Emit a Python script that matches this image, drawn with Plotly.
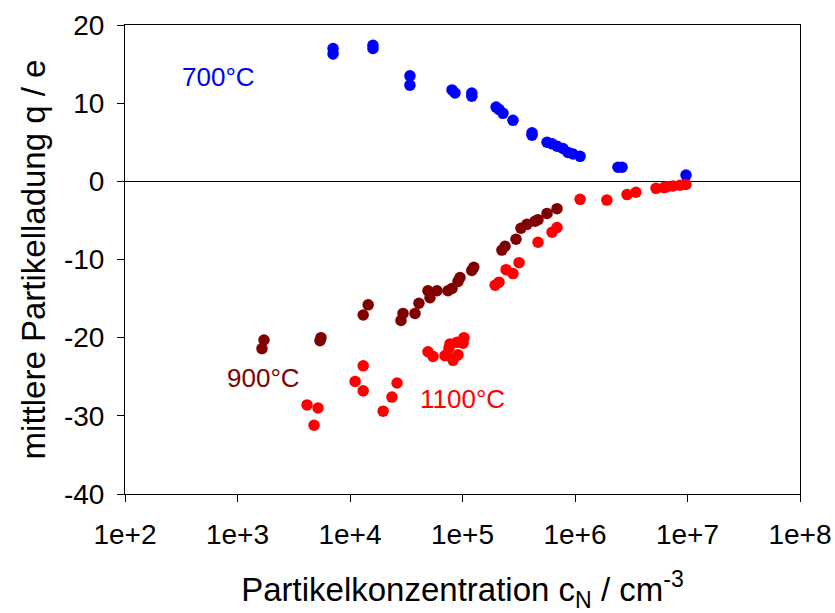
import numpy as np
import plotly.graph_objects as go

# 700 °C series
x700 = [7.07e3, 7.07e3, 1.60e4, 1.60e4, 3.41e4, 3.41e4, 8.07e4, 8.58e4, 1.21e5, 1.21e5,
        1.99e5, 2.11e5, 2.29e5, 2.81e5, 4.15e5, 4.15e5, 5.64e5, 6.25e5, 6.92e5, 7.82e5,
        8.67e5, 9.60e5, 1.11e6, 2.41e6, 2.62e6, 9.70e6]
q700 = [17.0, 16.3, 17.4, 17.0, 13.5, 12.3, 11.7, 11.3, 11.3, 10.9,
        9.5, 9.2, 8.7, 7.8, 6.2, 5.9, 5.0, 4.8, 4.5, 4.2,
        3.7, 3.5, 3.2, 1.8, 1.8, 0.8]

# 900 °C series
x900 = [1.65e3, 1.72e3, 5.41e3, 5.52e3, 1.31e4, 1.45e4, 2.84e4, 2.96e4, 3.78e4, 4.10e4,
        4.93e4, 5.14e4, 5.93e4, 7.43e4, 8.07e4, 9.12e4, 9.50e4, 1.21e5, 1.26e5, 2.24e5,
        2.39e5, 2.99e5, 3.31e5, 3.74e5, 4.41e5, 4.69e5, 5.64e5, 6.92e5]
q900 = [-21.4, -20.3, -20.4, -20.0, -17.1, -15.8, -17.8, -16.9, -16.9, -15.6,
        -14.0, -14.9, -14.0, -14.0, -13.7, -12.8, -12.3, -11.4, -11.0, -8.8,
        -8.3, -7.4, -6.0, -5.5, -5.1, -4.9, -4.1, -3.5]

# 1100 °C series
x1100 = [4.15e3, 4.79e3, 5.20e3, 1.11e4, 1.31e4, 1.31e4, 1.97e4, 2.36e4, 2.62e4, 4.93e4,
         5.47e4, 6.99e4, 7.28e4, 7.59e4, 7.74e4, 8.24e4, 8.94e4, 9.12e4, 1.01e5, 1.03e5,
         1.95e5, 2.11e5, 2.44e5, 2.81e5, 3.18e5, 4.69e5, 6.25e5, 6.92e5, 1.11e6, 1.92e6,
         2.90e6, 3.48e6, 5.25e6, 6.18e6, 6.58e6, 7.43e6, 8.58e6, 9.70e6]
q1100 = [-28.6, -31.2, -29.0, -25.6, -23.6, -26.8, -29.4, -27.6, -25.8, -21.8,
         -22.4, -22.3, -22.1, -21.3, -20.8, -22.9, -20.6, -22.2, -20.7, -20.0,
         -13.3, -12.9, -11.3, -11.8, -10.4, -7.8, -6.5, -5.9, -2.3, -2.4,
         -1.7, -1.4, -0.9, -0.8, -0.7, -0.6, -0.5, -0.4]

x_tickvals = [1e2, 1e3, 1e4, 1e5, 1e6, 1e7, 1e8]
x_ticktext = ["1e+2", "1e+3", "1e+4", "1e+5", "1e+6", "1e+7", "1e+8"]
y_tickvals = [-40, -30, -20, -10, 0, 10, 20]
y_ticktext = ["-40", "-30", "-20", "-10", "0", "10", "20"]

series = [
    ("700°C", x700, q700, "#0000FF"),
    ("900°C", x900, q900, "#800000"),
    ("1100°C", x1100, q1100, "#FF0000"),
]

labels = [
    ("700°C", 6.8e2, 13.4, "#0000FF"),
    ("900°C", 1.70e3, -25.1, "#800000"),
    ("1100°C", 1.0e5, -27.8, "#FF0000"),
]

FONT = "Liberation Sans, Arial, sans-serif"

fig = go.Figure()
for name, xs, ys, col in series:
    fig.add_trace(go.Scatter(x=xs, y=ys, mode="markers", name=name,
                             marker=dict(color=col, size=11.5, line=dict(width=0))))

for text, lx, ly, col in labels:
    fig.add_annotation(x=np.log10(lx), y=ly, xref="x", yref="y", text=text,
                       showarrow=False, font=dict(family=FONT, size=26, color=col))

fig.update_layout(
    width=835, height=613,
    margin=dict(l=125, r=35, t=25, b=119, autoexpand=False),
    paper_bgcolor="white", plot_bgcolor="white",
    showlegend=False,
    font=dict(family=FONT, color="black", size=28),
)
fig.update_xaxes(
    type="log", range=[2, 8], automargin=False,
    tickvals=x_tickvals, ticktext=x_ticktext,
    ticks="outside", ticklen=7, tickwidth=1, tickcolor="black",
    ticklabelstandoff=8, ticklabeloverflow="allow",
    showline=True, linecolor="black", linewidth=1, mirror=True,
    showgrid=False, zeroline=False,
    tickfont=dict(family=FONT, size=28),
    title=dict(text="Partikelkonzentration c<sub>N</sub> / cm<sup>-3</sup>",
               font=dict(family=FONT, size=33), standoff=40),
)
fig.update_yaxes(
    range=[-40, 20], automargin=False,
    tickvals=y_tickvals, ticktext=y_ticktext,
    ticks="outside", ticklen=7, tickwidth=1, tickcolor="black",
    ticklabelstandoff=7, ticklabeloverflow="allow",
    showline=True, linecolor="black", linewidth=1, mirror=True,
    showgrid=False, zeroline=True, zerolinecolor="black", zerolinewidth=1,
    tickfont=dict(family=FONT, size=28),
    title=dict(text="mittlere Partikelladung q / e",
               font=dict(family=FONT, size=33), standoff=8),
)

fig.write_html("out.html")
